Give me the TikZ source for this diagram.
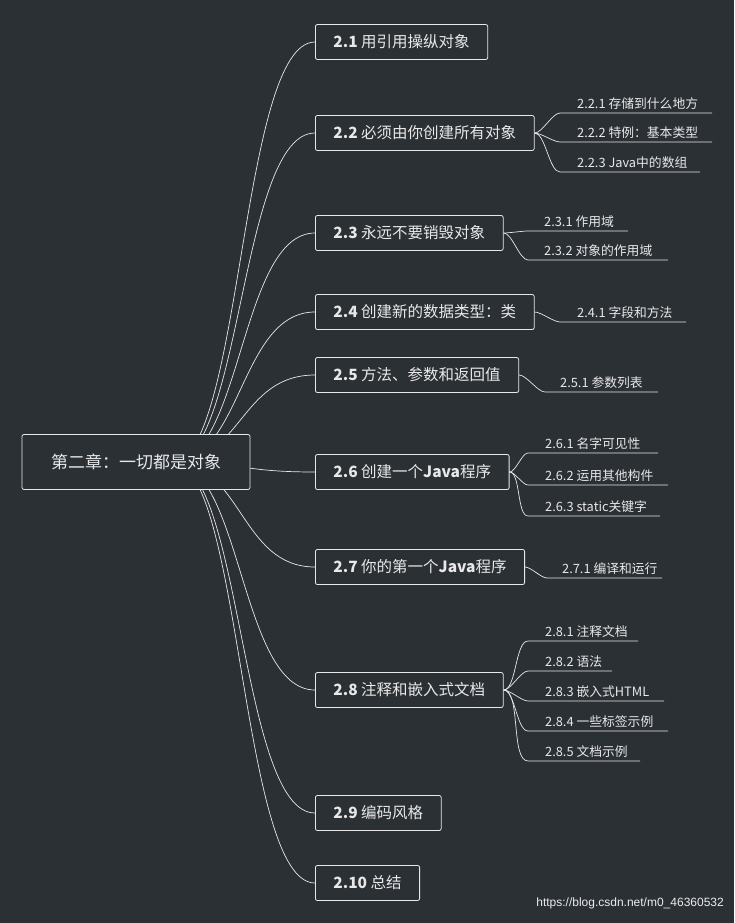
\documentclass[tikz,border=0pt]{standalone}
\usepackage{fontspec}
\setmainfont{Noto Sans CJK SC}
\newfontfamily\wmfont{Liberation Sans}
\definecolor{bgcol}{HTML}{2B3035}
\definecolor{inkcol}{HTML}{E8E8E8}
\begin{document}
\begin{tikzpicture}
          [x=1pt,y=-1pt,every node/.style={text=inkcol,inner sep=0},
           topicbox/.style={draw=inkcol,line width=0.8pt,rounded corners=2pt,font=\fontsize{15.5}{17}\selectfont,anchor=west,inner xsep=18pt,minimum height=35pt},
           subtext/.style={font=\fontsize{12.8}{14}\selectfont,anchor=south west,inner ysep=3pt},
           every draw/.style={inkcol}]

          \fill[bgcol] (0,0) rectangle (734,923);
          \useasboundingbox (0,0) rectangle (734,923);

          \node[topicbox] (t1) at (315,42) {\textbf{2.1} 用引用操纵对象};
          \node[topicbox] (t2) at (315,133) {\textbf{2.2} 必须由你创建所有对象};
          \node[topicbox] (t3) at (315,233) {\textbf{2.3} 永远不要销毁对象};
          \node[topicbox] (t4) at (315,312) {\textbf{2.4} 创建新的数据类型：类};
          \node[topicbox] (t5) at (315,375) {\textbf{2.5} 方法、参数和返回值};
          \node[topicbox] (t6) at (315,472) {\textbf{2.6} 创建一个\textbf{Java}程序};
          \node[topicbox] (t7) at (315,567) {\textbf{2.7} 你的第一个\textbf{Java}程序};
          \node[topicbox] (t8) at (315,690) {\textbf{2.8} 注释和嵌入式文档};
          \node[topicbox] (t9) at (315,813) {\textbf{2.9} 编码风格};
          \node[topicbox] (t10) at (315,883) {\textbf{2.10} 总结};

          \coordinate (hub) at (172,462);
          \foreach \t in {t1,t2,t3,t4,t5,t6,t7,t8,t9,t10}
            \draw[inkcol,line width=0.7pt] (hub) .. controls +(70,0) and +(-75,0) .. (\t.west);

          \node[draw=inkcol,fill=bgcol,line width=0.8pt,rounded corners=2pt,font=\fontsize{17}{19}\selectfont,minimum width=228pt,minimum height=55pt] (root) at (136,462) {第二章：一切都是对象};

          % sub topics: label name, text x, underline y, underline start x, end x, text
          \foreach \n/\p/\tx/\uy/\ux/\ex/\lab in {
              s221/t2/577/113/560/712/{2.2.1 存储到什么地方},
              s222/t2/577/142/560/712/{2.2.2 特例：基本类型},
              s223/t2/577/172/560/700/{2.2.3 Java中的数组},
              s231/t3/544/231/528/628/{2.3.1 作用域},
              s232/t3/544/260/528/668/{2.3.2 对象的作用域},
              s241/t4/577/322/560/686/{2.4.1 字段和方法},
              s251/t5/560/392/545/658/{2.5.1 参数列表},
              s261/t6/545/453/528/658/{2.6.1 名字可见性},
              s262/t6/545/485/528/668/{2.6.2 运用其他构件},
              s263/t6/545/516/528/660/{2.6.3 static关键字},
              s271/t7/562/578/547/662/{2.7.1 编译和运行},
              s281/t8/545/641/528/638/{2.8.1 注释文档},
              s282/t8/545/671/528/612/{2.8.2 语法},
              s283/t8/545/701/528/664/{2.8.3 嵌入式HTML},
              s284/t8/545/731/528/668/{2.8.4 一些标签示例},
              s285/t8/545/761/528/640/{2.8.5 文档示例}} {
            \node[subtext] (\n) at (\tx,\uy) {\lab};
            \coordinate (\n u) at (\ux,\uy);
            \coordinate (\n e) at (\ex,\uy);
            \draw[inkcol,line width=0.7pt] (\p.east) to[out=0,in=180,looseness=0.6] (\n u) -- (\n e);
          }

          \node[font=\wmfont\fontsize{12}{14}\selectfont,text=white!85!gray,anchor=east] (wm) at (724,903) {https://blog.csdn.net/m0\_46360532};
\end{tikzpicture}
\end{document}
